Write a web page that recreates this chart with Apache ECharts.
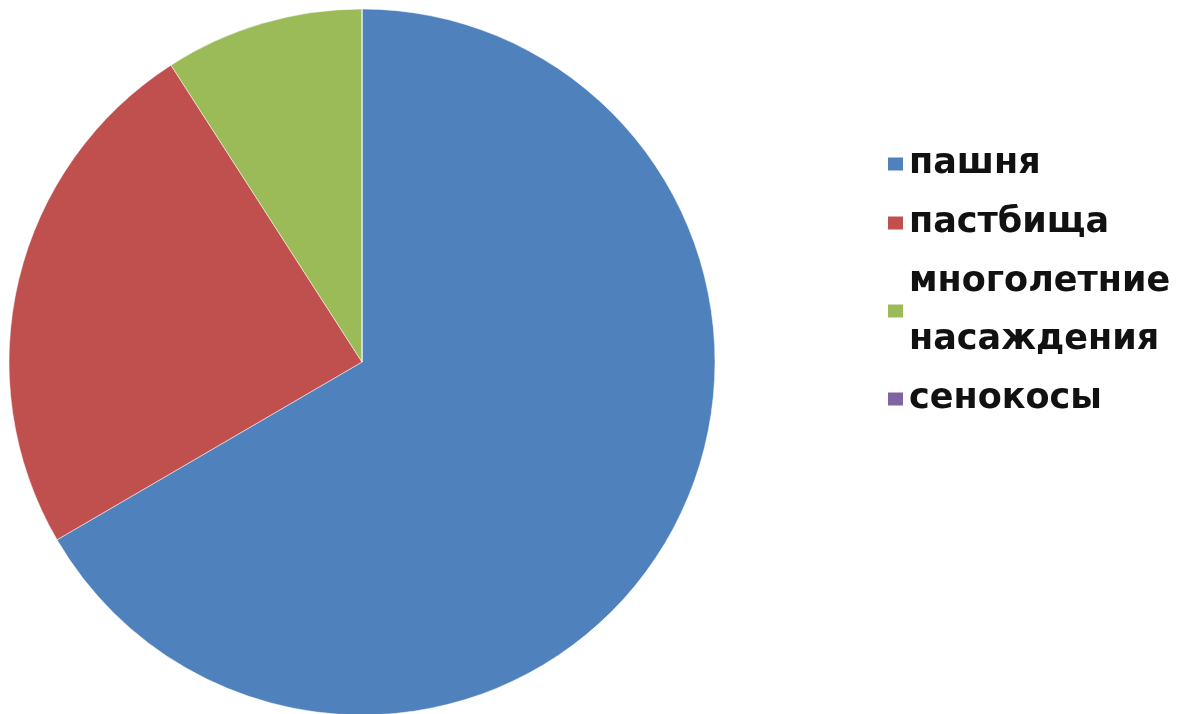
<!DOCTYPE html>
<html>
<head>
<meta charset="utf-8">
<script src="https://cdn.jsdelivr.net/npm/echarts@6/dist/echarts.min.js"></script>
<style>html,body{margin:0;padding:0;background:#fff;}#chart{width:1184px;height:714px;}</style>
</head>
<body>
<div id="chart"></div>
<script>
const categories = ['пашня', 'пастбища', 'многолетние\nнасаждения', 'сенокосы'];
const values = [66.6, 24.3, 9.1, 0];
const colors = ['#4F81BD', '#C0504D', '#9BBB59', '#8064A2'];

const chart = echarts.init(document.getElementById('chart'));
chart.setOption({
  animation: false,
  color: colors,
  legend: {
    orient: 'vertical',
    left: 881,
    top: 130,
    icon: 'rect',
    itemWidth: 17,
    itemHeight: 15,
    itemGap: 1,
    textStyle: {
      fontFamily: 'DejaVu Sans',
      fontWeight: 'bold',
      fontSize: 35,
      color: '#111',
      lineHeight: 58
    },
    data: categories
  },
  series: [{
    type: 'pie',
    center: [362, 362],
    radius: 353,
    startAngle: 90,
    clockwise: true,
    label: { show: false },
    labelLine: { show: false },
    itemStyle: { borderColor: '#fff', borderWidth: 0.5 },
    emphasis: { disabled: true },
    data: categories.map((c, i) => ({ name: c, value: values[i] }))
  }]
});
</script>
</body>
</html>
